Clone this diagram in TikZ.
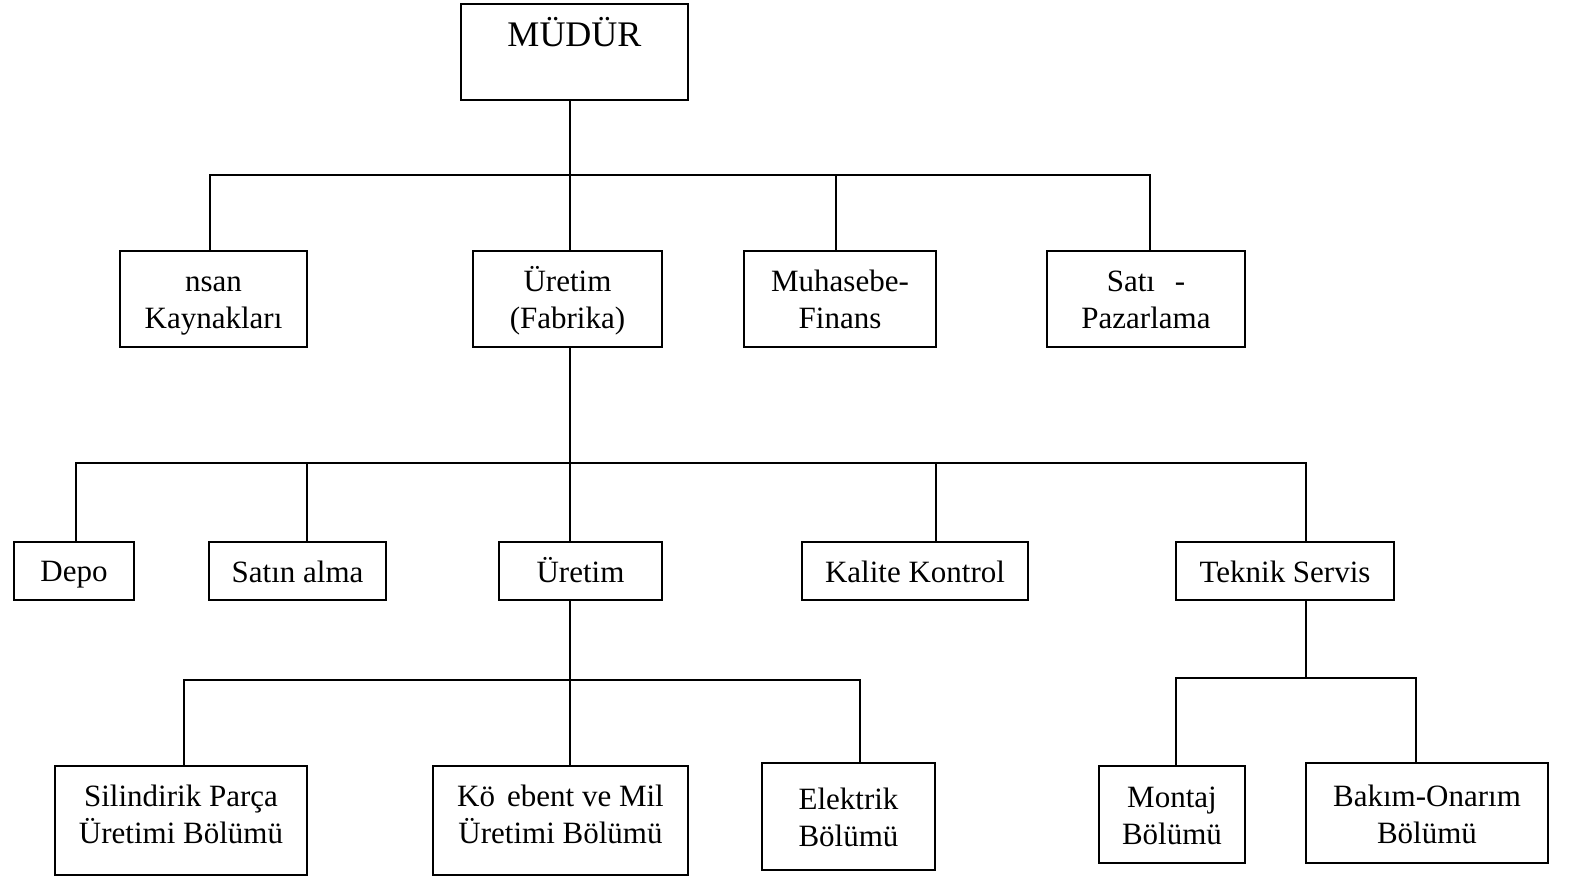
\documentclass[tikz,border=0pt]{standalone}
\usepackage{fontspec}
\setmainfont{Liberation Serif}
\usetikzlibrary{positioning}
\newcommand{\tline}{\rule{0pt}{28pt}}

\begin{document}
\begin{tikzpicture}[
    x=1pt, y=-1pt,
    line width=2pt,
    unit/.style={draw, align=center, inner sep=0pt, font=\fontsize{31}{37}\selectfont,
        execute at begin node={\tline},
        execute at end node={\rule[-#1]{0pt}{#1}}},
    unit/.default=5pt,
    top/.style={unit, minimum height=96pt},
    mid/.style={unit, minimum height=58pt},
]
\useasboundingbox (0,0) rectangle (1569,877);

\node[draw, inner sep=0pt, minimum width=227pt, text height=43pt, text depth=53pt,
    font=\fontsize{36}{40}\selectfont, anchor=base] (mudur) at (574.5,47) {MÜDÜR};

\node[top, minimum width=187pt] (ik) at (213.5,299) {\tline nsan\\Kaynakları};
\node[top, minimum width=189pt] (fabrika) at (567.5,299) {\tline Üretim\\(Fabrika)};
\node[top, minimum width=192pt] (muhasebe) at (840,299) {\tline Muhasebe-\\Finans};
\node[top, minimum width=198pt] (satis) at (1146,299) {\tline Satı\hspace{0.39em} -\\Pazarlama};

\node[mid, minimum width=120pt] (depo) at (74,571) {Depo};
\node[mid, minimum width=177pt] (satinalma) at (297.5,571) {Satın alma};
\node[mid, minimum width=163pt] (uretim) at (580.5,571) {Üretim};
\node[mid, minimum width=226pt] (kalite) at (915,571) {Kalite Kontrol};
\node[mid, minimum width=218pt] (teknik) at (1285,571) {Teknik Servis};

\node[unit=20pt, minimum width=252pt, minimum height=109pt] (silindirik) at (181,820.5) {\tline Silindirik Parça\\Üretimi Bölümü};
\node[unit=20pt, minimum width=255pt, minimum height=109pt] (kosebent) at (560.5,820.5) {\tline Kö\hspace{0.39em}ebent ve Mil\\Üretimi Bölümü};
\node[unit, minimum width=173pt, minimum height=107pt] (elektrik) at (848.5,816.5) {\tline Elektrik\\Bölümü};
\node[unit, minimum width=146pt, minimum height=97pt] (montaj) at (1172,814.5) {\tline Montaj\\Bölümü};
\node[unit, minimum width=242pt, minimum height=100pt] (bakim) at (1427,813) {\tline Bakım-Onarım\\Bölümü};

\coordinate (bus1) at (570,175);
\coordinate (bus2) at (570,463);
\coordinate (bus3) at (570,680);
\coordinate (bus4) at (1306,678);

\draw ([xshift=-4.5pt]mudur.south) -- (bus1);
\draw ([xshift=-3.5pt]ik.north) |- (bus1) -| ([xshift=4pt]satis.north);
\draw ([xshift=2.5pt]fabrika.north) -- (bus1);
\draw ([xshift=-4pt]muhasebe.north) |- (bus1);

\draw ([xshift=2.5pt]fabrika.south) -- (bus2);
\draw ([xshift=2pt]depo.north) |- (bus2) -| ([xshift=21pt]teknik.north);
\draw ([xshift=9.5pt]satinalma.north) |- (bus2);
\draw ([xshift=-10.5pt]uretim.north) -- (bus2);
\draw ([xshift=21pt]kalite.north) |- (bus2);

\draw ([xshift=-10.5pt]uretim.south) -- (bus3);
\draw ([xshift=3pt]silindirik.north) |- (bus3) -| ([xshift=11.5pt]elektrik.north);
\draw ([xshift=9.5pt]kosebent.north) -- (bus3);

\draw ([xshift=21pt]teknik.south) -- (bus4);
\draw ([xshift=4pt]montaj.north) |- (bus4) -| ([xshift=-11pt]bakim.north);
\end{tikzpicture}
\end{document}
